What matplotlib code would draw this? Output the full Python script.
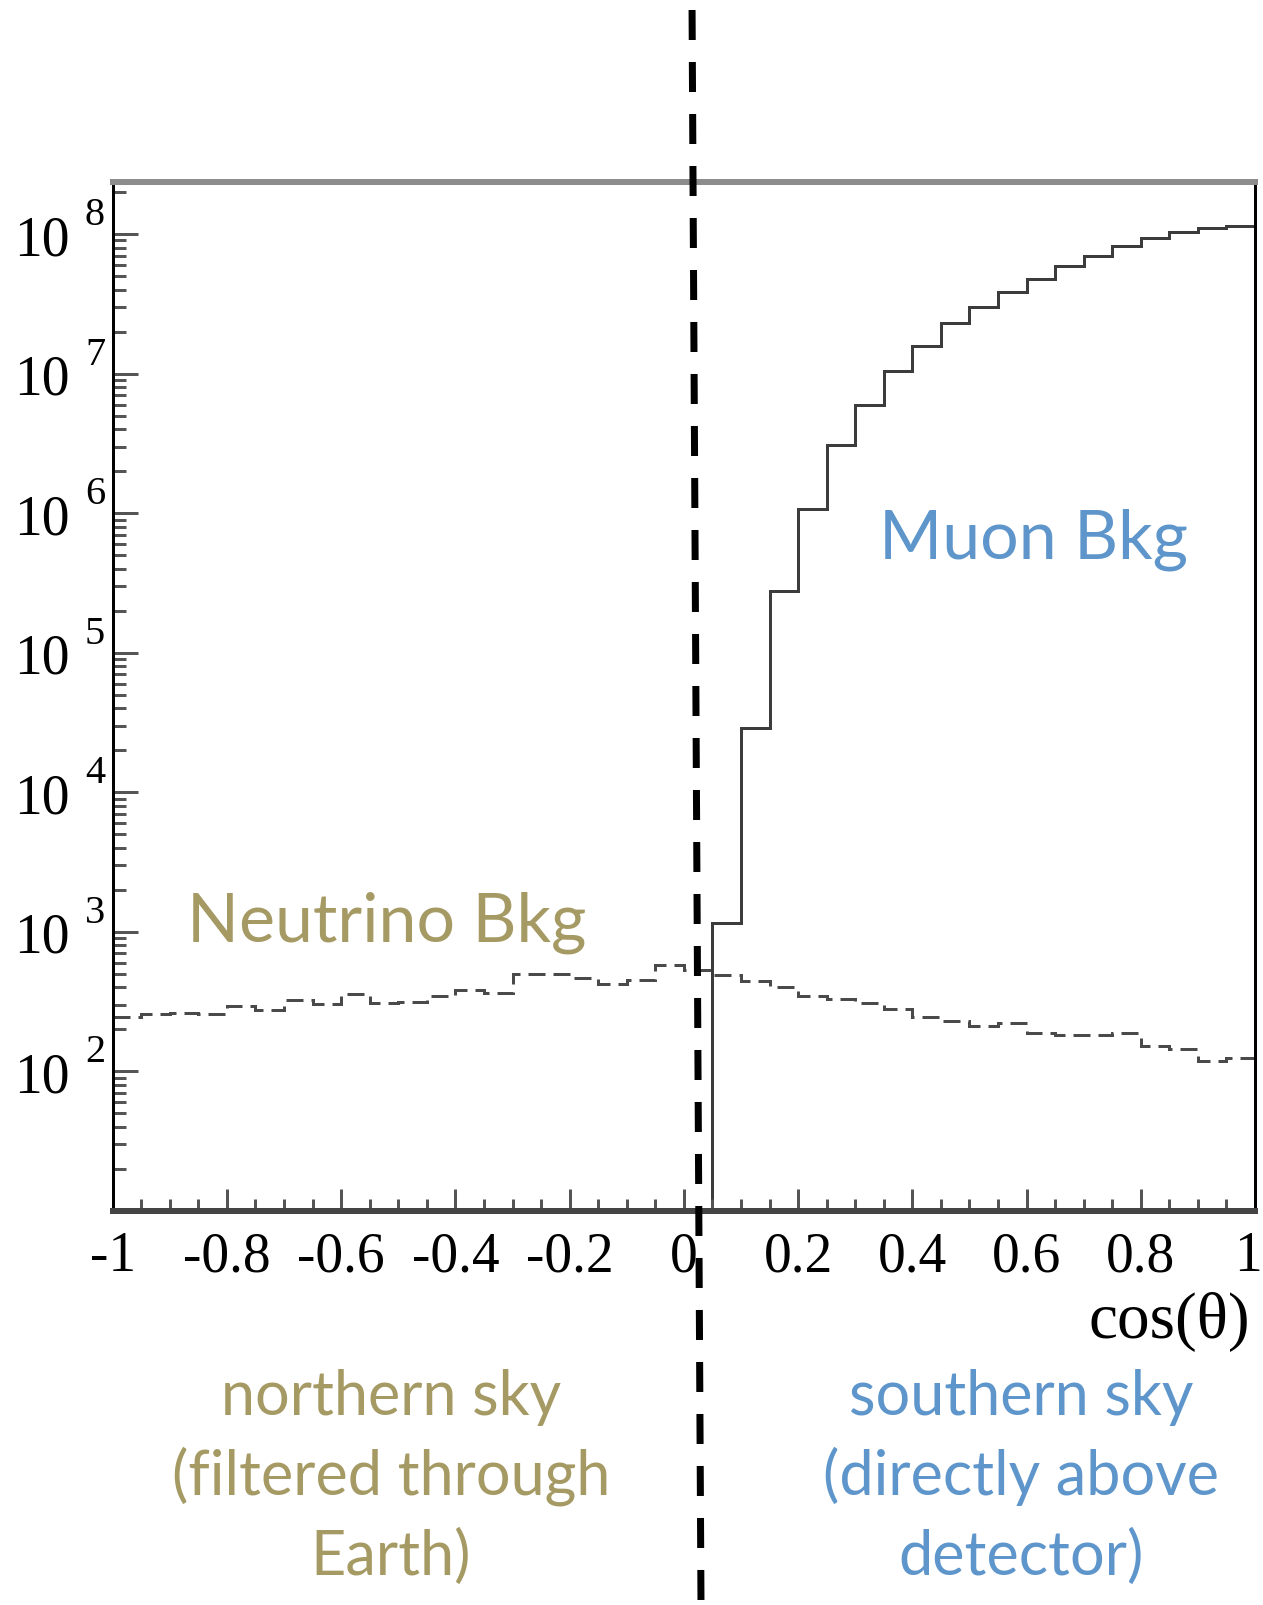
import numpy as np
import matplotlib
matplotlib.use("Agg")
import matplotlib.pyplot as plt
from matplotlib.lines import Line2D
from matplotlib.transforms import offset_copy, ScaledTranslation
from matplotlib.ticker import LogLocator, FixedLocator, MultipleLocator, NullFormatter

plt.rcParams['axes.unicode_minus'] = False
plt.rcParams['lines.scale_dashes'] = False

# 40 bins of width 0.05 in cos(theta)
bin_edges = np.linspace(-1.0, 1.0, 41)

# neutrino background, every bin from -1 to 1
nu_counts = [244, 258, 263, 257, 295, 276, 325, 303, 357, 307,
             316, 348, 385, 367, 502, 500, 464, 426, 454, 580,
             535, 493, 447, 403, 348, 330, 307, 282, 244, 231,
             210, 224, 187, 183, 181, 188, 153, 144, 118, 124]

# muon background, only from cos(theta)=0.05 upwards
mu_edges = bin_edges[21:]
mu_counts = [1150, 2.89e4, 2.77e5, 1.08e6, 3.1e6, 6.0e6, 1.04e7, 1.58e7, 2.29e7, 3.02e7,
             3.87e7, 4.8e7, 5.87e7, 7.0e7, 8.2e7, 9.3e7, 1.03e8, 1.11e8, 1.15e8]

x_ticks = [-1, -0.8, -0.6, -0.4, -0.2, 0, 0.2, 0.4, 0.6, 0.8, 1]
x_labels = ['-1', '-0.8', '-0.6', '-0.4', '-0.2', '0', '0.2', '0.4', '0.6', '0.8', '1']
y_ticks = [1e2, 1e3, 1e4, 1e5, 1e6, 1e7, 1e8]
y_exponents = ['2', '3', '4', '5', '6', '7', '8']

north_lines = ['northern sky', '(filtered through', 'Earth)']
south_lines = ['southern sky', '(directly above', 'detector)']

OLIVE = '#a69a64'
BLUE = '#5e96cb'
PX = 0.72  # points per pixel at dpi 100

fig = plt.figure(figsize=(12.63, 16.06), dpi=100)
ax_w = (1255 - 112.7) / 1263
ax = fig.add_axes([112.7 / 1263, 1 - 1212 / 1606, ax_w, (1212 - 183) / 1606])

ax.stairs(nu_counts, bin_edges, baseline=None, color='#4a4a4a', lw=3 * PX,
          linestyle=(0, (17 * PX, 8 * PX)))
ax.stairs(mu_counts, mu_edges, baseline=1.0, color='#3c3c3c', lw=3 * PX)

ax.set_yscale('log')
ax.set_xlim(-1, 1)
ax.set_ylim(10, 2.36e8)

ax.xaxis.set_major_locator(FixedLocator(x_ticks))
ax.set_xticklabels(x_labels)
ax.xaxis.set_minor_locator(MultipleLocator(0.05))
ax.yaxis.set_major_locator(FixedLocator(y_ticks))
ax.set_yticklabels(['10'] * len(y_ticks))
ax.yaxis.set_minor_locator(LogLocator(base=10, subs=np.arange(2, 10)))
ax.yaxis.set_minor_formatter(NullFormatter())

ax.tick_params(axis='x', which='major', direction='in', length=22 * PX, width=3 * PX,
               color='#555555', pad=14, top=False)
ax.tick_params(axis='x', which='minor', direction='in', length=12 * PX, width=3 * PX,
               color='#555555', top=False)
ax.tick_params(axis='y', which='major', direction='in', length=25 * PX, width=3 * PX,
               color='#555555', pad=31, right=False)
ax.tick_params(axis='y', which='minor', direction='in', length=13 * PX, width=3 * PX,
               color='#555555', right=False)

for lab in ax.get_xticklabels() + ax.get_yticklabels():
    lab.set_fontfamily('Liberation Serif')
    lab.set_fontsize(40)

# pull the "1" at the right edge slightly inwards
last = ax.get_xticklabels()[-1]
last.set_transform(last.get_transform() + ScaledTranslation(-7 / 100, 0, fig.dpi_scale_trans))

# exponents of the decade labels, set high like in the original
exp_trans = offset_copy(ax.get_yaxis_transform(), fig=fig, y=10, units='dots')
for val, e in zip(y_ticks, y_exponents):
    ax.text((85 - 112.7) / (ax_w * 1263), val, e, transform=exp_trans, family='Liberation Serif',
            fontsize=29, ha='left', va='baseline', clip_on=False)

ax.spines['left'].set_color('black')
ax.spines['left'].set_linewidth(3 * PX)
ax.spines['right'].set_color('black')
ax.spines['right'].set_linewidth(3 * PX)
ax.spines['top'].set_color('#8c8c8c')
ax.spines['top'].set_linewidth(6 * PX)
ax.spines['bottom'].set_color('#444444')
ax.spines['bottom'].set_linewidth(6 * PX)

ax.text(-0.52, 861, 'Neutrino Bkg', color=OLIVE, fontsize=49, family='Lato',
        ha='center', va='baseline')
ax.text(0.613, 4.85e5, 'Muon Bkg', color=BLUE, fontsize=49, family='Lato',
        ha='center', va='baseline')

fig.text(1250 / 1263, 1 - 1338 / 1606, 'cos(θ)', family='Liberation Serif', fontsize=47,
         ha='right', va='baseline')

for i, (n, s) in enumerate(zip(north_lines, south_lines)):
    yb = 1 - (1415 + 80 * i) / 1606
    fig.text(391 / 1263, yb, n, color=OLIVE, fontsize=44, family='Lato', ha='center', va='baseline')
    fig.text(1021 / 1263, yb, s, color=BLUE, fontsize=44, family='Lato', ha='center', va='baseline')

# divider between northern and southern sky
div = Line2D([692 / 1263, 701 / 1263], [1, 0], transform=fig.transFigure, color='black',
             lw=7 * PX, linestyle=(41 * PX, (30 * PX, 22 * PX)))
div.set_dash_capstyle('butt')
fig.add_artist(div)

fig.savefig('out.png', dpi=100)
